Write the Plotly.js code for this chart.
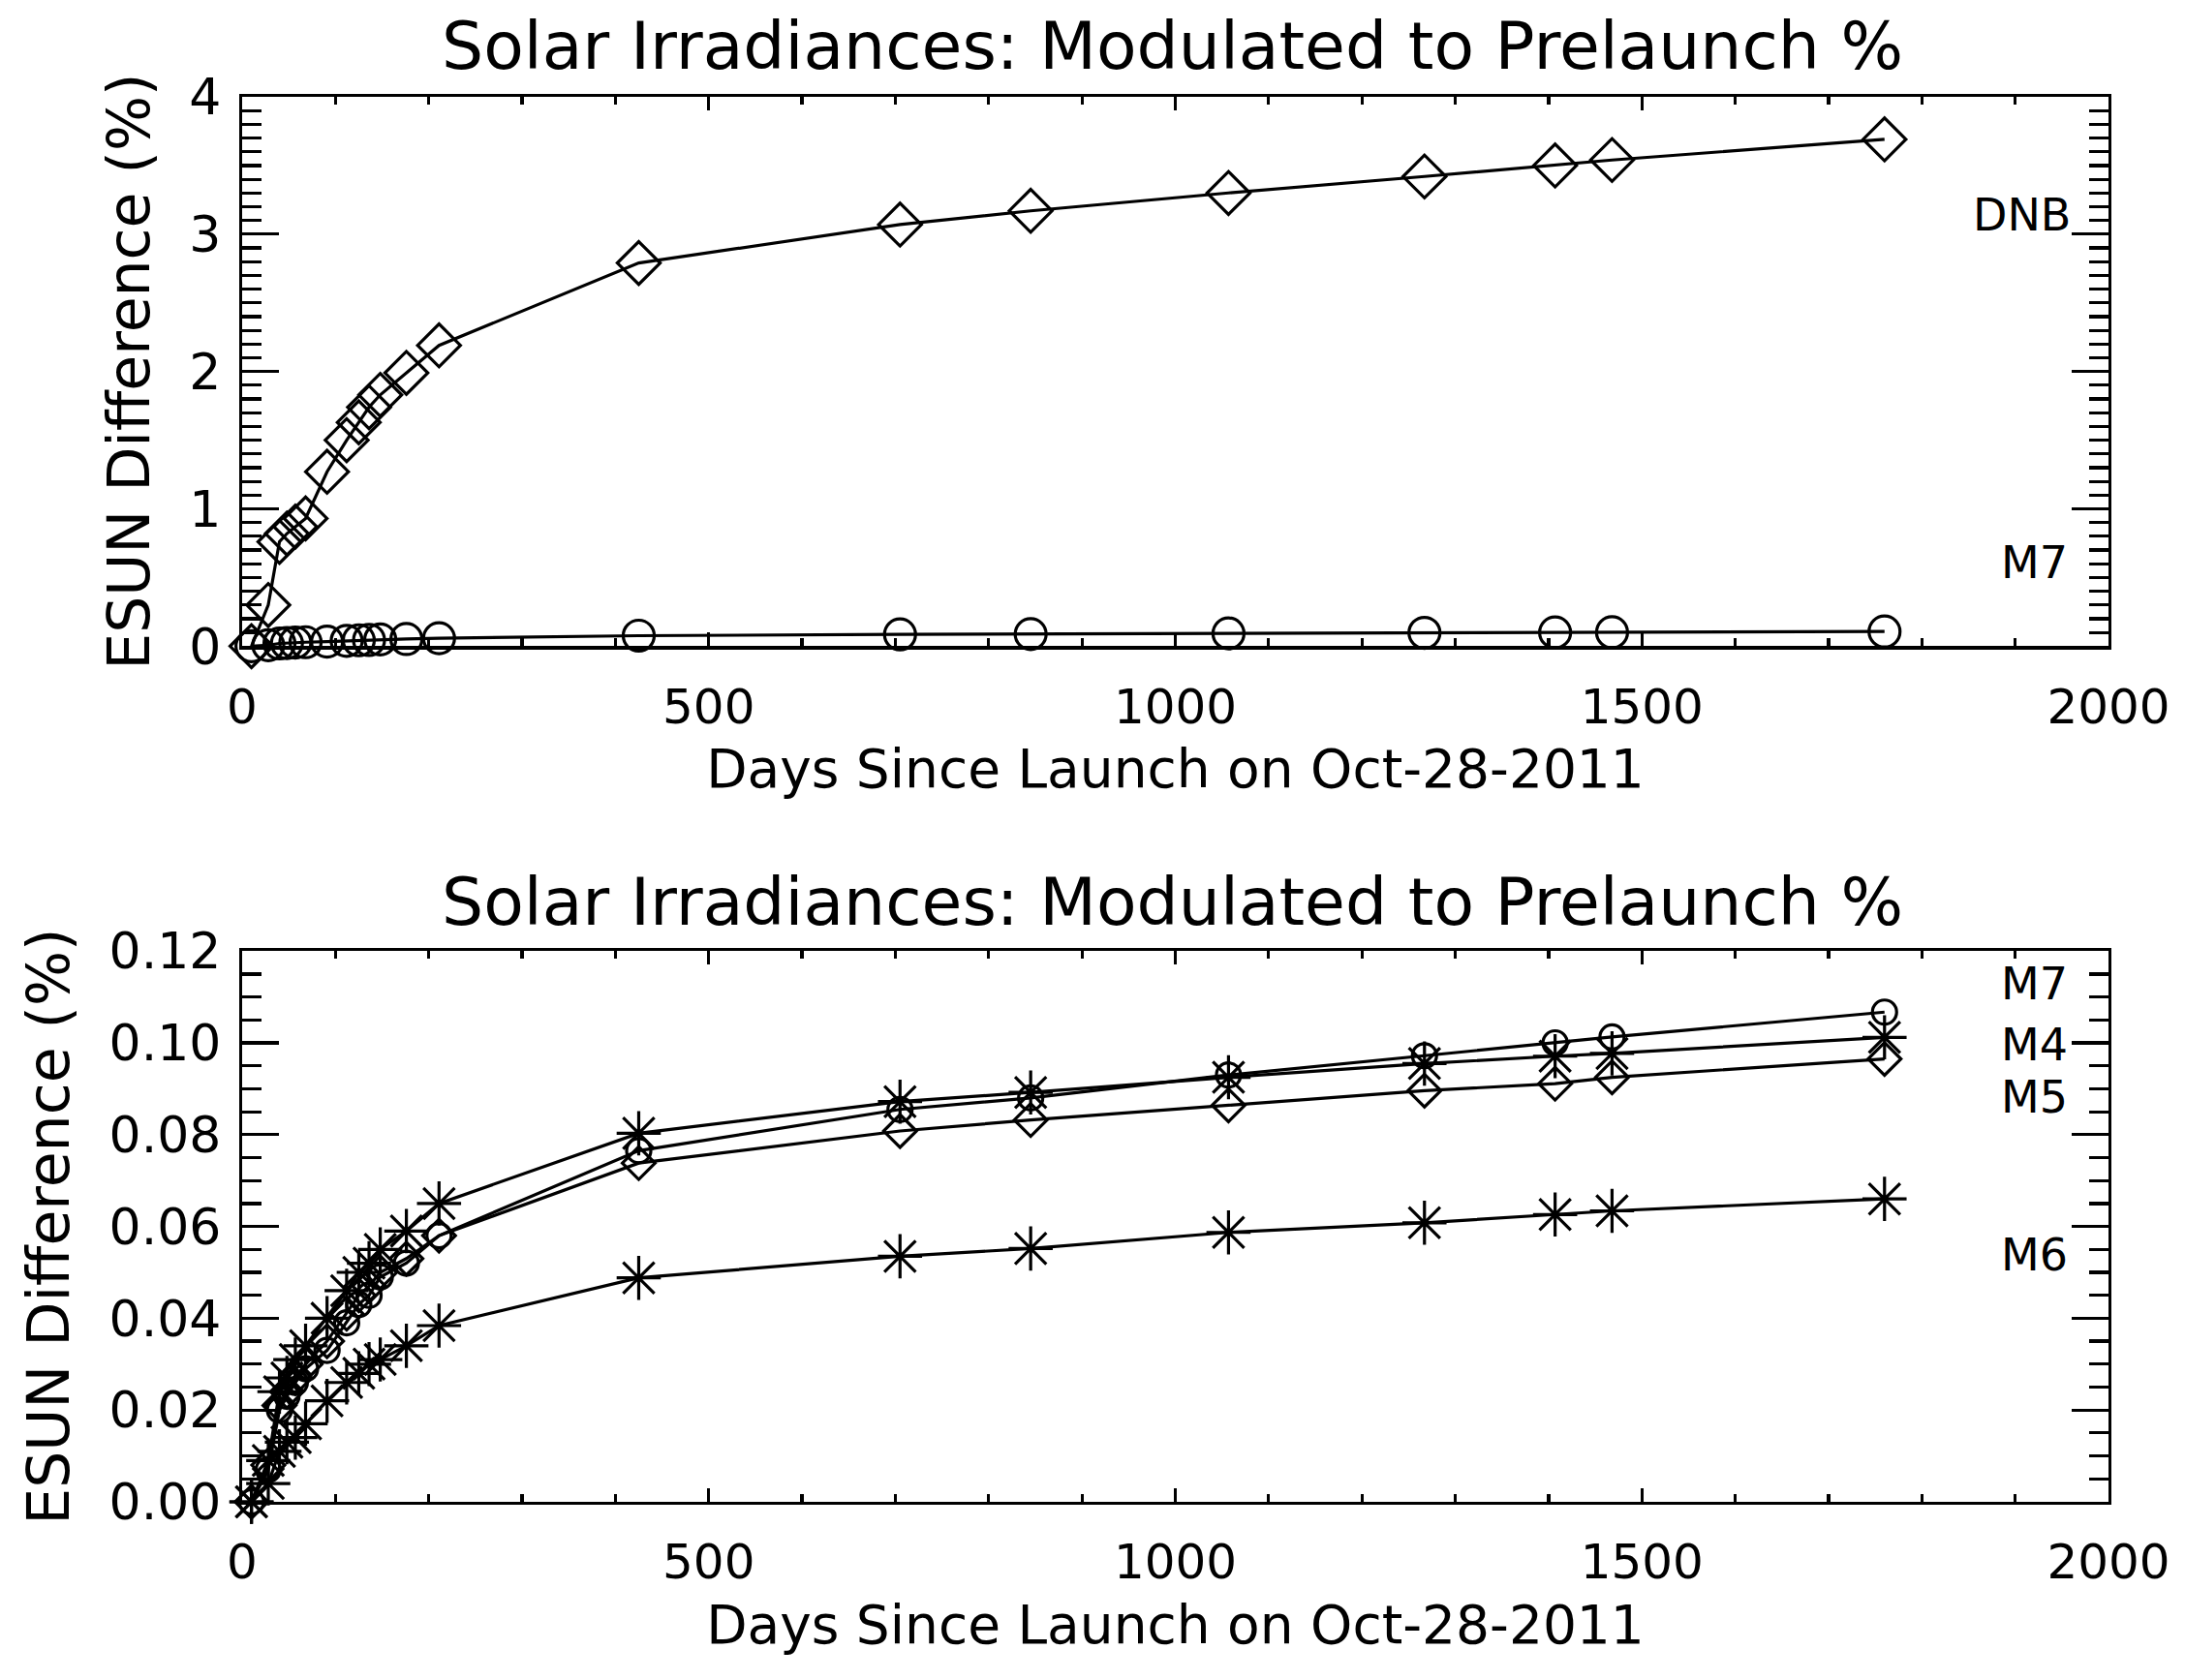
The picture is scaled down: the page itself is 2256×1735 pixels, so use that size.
<!DOCTYPE html>
<html>
<head>
<meta charset="utf-8">
<script src="https://cdn.plot.ly/plotly-3.0.1.min.js"></script>
<style>
  html, body { margin: 0; padding: 0; background: #fff; }
  #chart { width: 2256px; height: 1735px; }
</style>
</head>
<body>
<div id="chart"></div>
<script>
// ---- Data ----
var days = [10, 28, 40, 48, 57, 68, 91, 112, 125, 136, 148, 176, 211, 425, 705, 845, 1057, 1267, 1407, 1468, 1760];

// Top panel
var dnb = [0.00, 0.30, 0.76, 0.82, 0.87, 0.93, 1.27, 1.50, 1.63, 1.74, 1.83, 1.99, 2.19, 2.79, 3.07, 3.17, 3.30, 3.42, 3.50, 3.54, 3.69];

// Bottom panel
var m7 = [0.000, 0.007, 0.020, 0.023, 0.026, 0.029, 0.033, 0.039, 0.043, 0.045, 0.049, 0.052, 0.058, 0.0765, 0.0855, 0.0880, 0.0930, 0.0972, 0.1000, 0.1013, 0.1067];
var m4 = [0.000, 0.009, 0.024, 0.027, 0.031, 0.034, 0.040, 0.046, 0.050, 0.052, 0.055, 0.059, 0.065, 0.0803, 0.0872, 0.0892, 0.0925, 0.0955, 0.0971, 0.0977, 0.1012];
var m5 = [0.000, 0.008, 0.021, 0.024, 0.027, 0.030, 0.035, 0.041, 0.045, 0.047, 0.050, 0.053, 0.058, 0.0738, 0.0808, 0.0832, 0.0864, 0.0896, 0.0911, 0.0925, 0.0965];
var m6 = [0.000, 0.004, 0.011, 0.013, 0.014, 0.017, 0.022, 0.026, 0.028, 0.030, 0.031, 0.034, 0.0384, 0.0488, 0.0535, 0.0552, 0.0587, 0.0608, 0.0626, 0.0634, 0.0660];

var xTickVals = [0, 500, 1000, 1500, 2000];
var yTopTickVals = [0, 1, 2, 3, 4];
var yBotTickVals = [0.00, 0.02, 0.04, 0.06, 0.08, 0.10, 0.12];

var titleText = 'Solar Irradiances: Modulated to Prelaunch %';
var xTitle = 'Days Since Launch on Oct-28-2011';
var yTitle = 'ESUN Difference (%)';

// ---- Styling ----
var FONT = 'DejaVu Sans, sans-serif';
var BLACK = '#000000';
var LW = 3.2;

function series(y, sym, size, xa, ya) {
  return {
    x: days, y: y, type: 'scatter', mode: 'lines+markers',
    xaxis: xa, yaxis: ya, showlegend: false, cliponaxis: false,
    line: { color: BLACK, width: LW },
    marker: { symbol: sym, size: size, color: BLACK, line: { color: BLACK, width: LW } }
  };
}

var traces = [
  series(dnb, 'diamond-open', 34, 'x', 'y'),
  series(m7, 'circle-open', 32, 'x', 'y'),
  series(m7, 'circle-open', 25, 'x2', 'y2'),
  series(m4, 'asterisk-open', 38, 'x2', 'y2'),
  series(m5, 'diamond-open', 26, 'x2', 'y2'),
  series(m6, 'asterisk-open', 38, 'x2', 'y2')
];

function xAxis(anchor) {
  return {
    anchor: anchor, domain: [0, 1], range: [0, 2000],
    tickmode: 'array', tickvals: xTickVals, ticktext: xTickVals.map(String),
    ticks: 'inside', ticklen: 14, tickwidth: LW, tickcolor: BLACK,
    minor: { dtick: 100, tick0: 0, ticks: 'inside', ticklen: 8, tickwidth: LW, tickcolor: BLACK, showgrid: false },
    showline: true, linewidth: LW, linecolor: BLACK, mirror: 'allticks',
    showgrid: false, zeroline: false,
    tickfont: { family: FONT, size: 50, color: BLACK },
    ticklabelstandoff: 16,
    title: { text: xTitle, font: { family: FONT, size: 55, color: BLACK }, standoff: 18 }
  };
}
function yAxis(anchor, domain, range, vals, fmt, minorStep) {
  return {
    anchor: anchor, domain: domain, range: range,
    tickmode: 'array', tickvals: vals, ticktext: vals.map(function (v) { return fmt(v); }),
    ticks: 'inside', ticklen: 38, tickwidth: LW, tickcolor: BLACK,
    minor: { dtick: minorStep, tick0: 0, ticks: 'inside', ticklen: 20, tickwidth: LW, tickcolor: BLACK, showgrid: false },
    showline: true, linewidth: LW, linecolor: BLACK, mirror: 'allticks',
    showgrid: false, zeroline: false,
    tickfont: { family: FONT, size: 52, color: BLACK },
    ticklabelstandoff: 8,
    title: { text: yTitle, font: { family: FONT, size: 60, color: BLACK }, standoff: 22 }
  };
}

var LABEL_FONT = { family: FONT, size: 46, color: BLACK };

var layout = {
  width: 2256, height: 1735,
  paper_bgcolor: '#ffffff', plot_bgcolor: '#ffffff',
  margin: { l: 250, r: 79, t: 100, b: 184 },
  font: { family: FONT, color: BLACK },
  xaxis: xAxis('y'),
  yaxis: yAxis('x', [0.609, 1], [0, 4], yTopTickVals, function (v) { return String(v); }, 0.1),
  xaxis2: xAxis('y2'),
  yaxis2: yAxis('x2', [0, 0.392], [0, 0.12], yBotTickVals, function (v) { return v.toFixed(2); }, 0.005),
  annotations: [
    { text: titleText, xref: 'paper', yref: 'paper', x: 0.4985, y: 1.036, xanchor: 'center', yanchor: 'middle', showarrow: false, font: { family: FONT, size: 68, color: BLACK } },
    { text: titleText, xref: 'paper', yref: 'paper', x: 0.4985, y: 0.4267, xanchor: 'center', yanchor: 'middle', showarrow: false, font: { family: FONT, size: 68, color: BLACK } },
    { text: 'DNB', xref: 'x', yref: 'y', x: 1962, y: 3.14, xanchor: 'right', yanchor: 'middle', showarrow: false, font: LABEL_FONT },
    { text: 'M7', xref: 'x', yref: 'y', x: 1958, y: 0.61, xanchor: 'right', yanchor: 'middle', showarrow: false, font: LABEL_FONT },
    { text: 'M7', xref: 'x2', yref: 'y2', x: 1958, y: 0.1129, xanchor: 'right', yanchor: 'middle', showarrow: false, font: LABEL_FONT },
    { text: 'M4', xref: 'x2', yref: 'y2', x: 1958, y: 0.0996, xanchor: 'right', yanchor: 'middle', showarrow: false, font: LABEL_FONT },
    { text: 'M5', xref: 'x2', yref: 'y2', x: 1958, y: 0.0882, xanchor: 'right', yanchor: 'middle', showarrow: false, font: LABEL_FONT },
    { text: 'M6', xref: 'x2', yref: 'y2', x: 1958, y: 0.0538, xanchor: 'right', yanchor: 'middle', showarrow: false, font: LABEL_FONT }
  ]
};

Plotly.newPlot('chart', traces, layout, { staticPlot: true, displayModeBar: false });
</script>
</body>
</html>
